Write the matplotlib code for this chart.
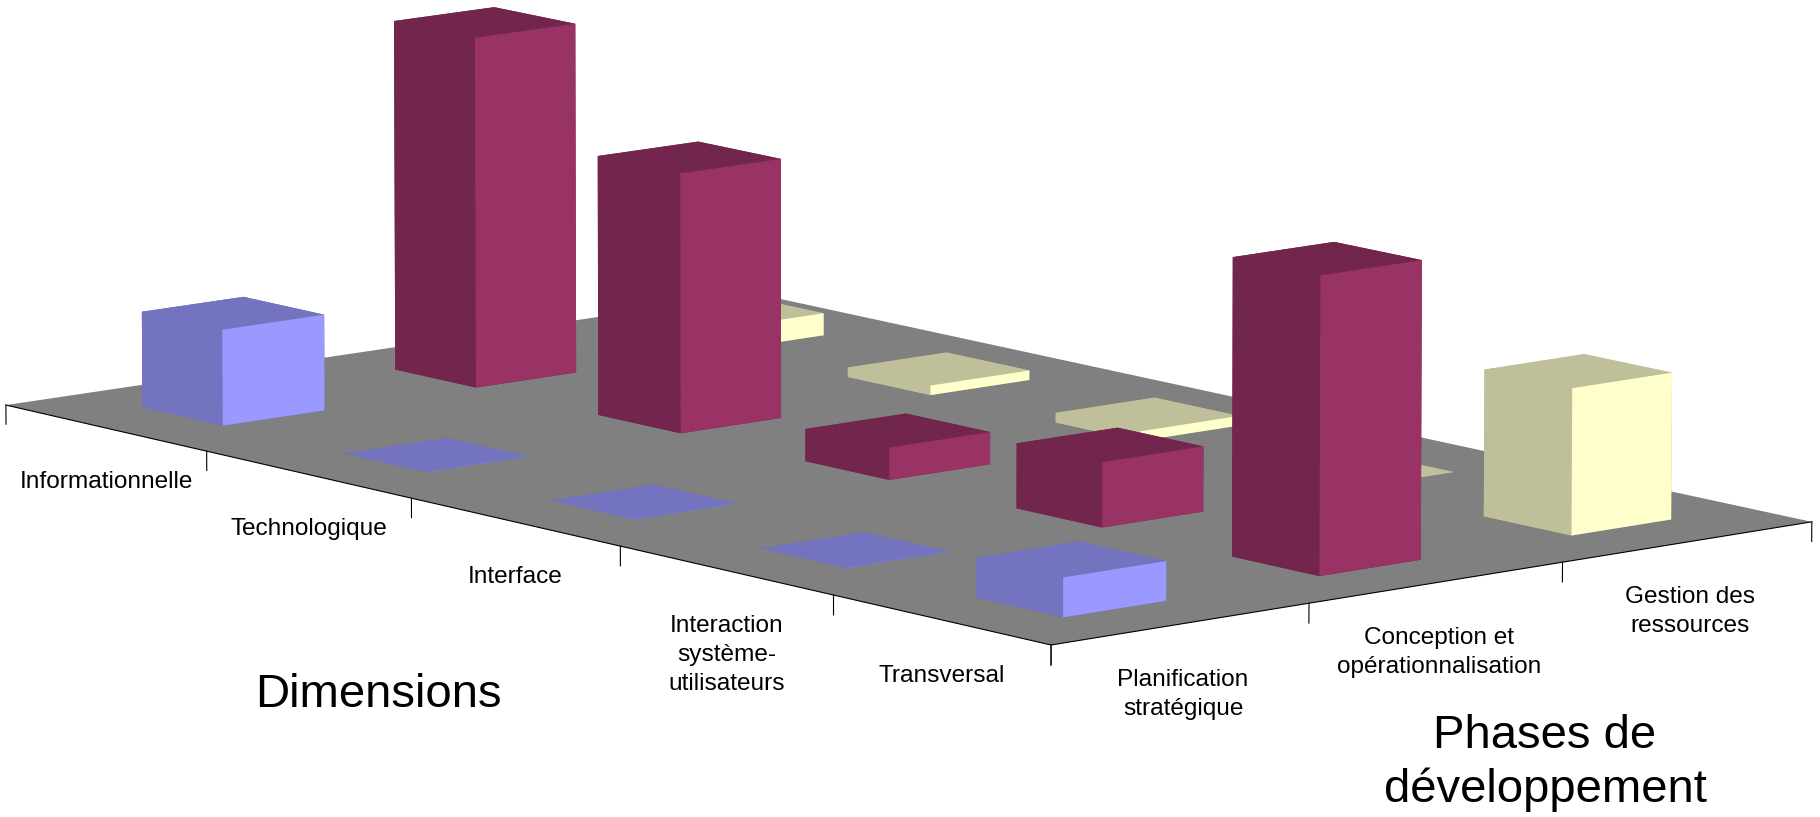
import matplotlib
matplotlib.use("Agg")
import matplotlib.pyplot as plt
from mpl_toolkits.mplot3d.art3d import Poly3DCollection

dimensions = ["Informationnelle", "Technologique", "Interface",
              "Interaction\nsystème-\nutilisateurs", "Transversal"]
phases = ["Planification\nstratégique", "Conception et\nopérationnalisation",
          "Gestion des\nressources"]

# one value per dimension
planification = [0.30, 0.0005, 0.0005, 0.0005, 0.12]
conception = [1.10, 0.81, 0.10, 0.20, 0.91]
gestion = [0.07, 0.03, 0.03, 0.0005, 0.45]
series = [planification, conception, gestion]

# top, left and right face of the bars
face_colors = [("#7373BF", "#7373BF", "#9999FF"),
               ("#73264D", "#73264D", "#993366"),
               ("#BFBF99", "#BFBF99", "#FFFFCC")]

plt.rcParams['font.family'] = ['Liberation Sans', 'DejaVu Sans']

fig = plt.figure(figsize=(18.2, 8.17), dpi=100)
# axes are square in 3d so they hang over the figure to get the full width
ax = fig.add_axes([-0.1275, -0.732, 1.2088, 2.6928], projection='3d', computed_zorder=False)
ax.set_proj_type('persp', focal_length=2.1)
ax.view_init(elev=10.3, azim=-39.85)
ax.set_axis_off()

# floor
floor = Poly3DCollection([[(0, 0, 0), (5, 0, 0), (5, 3, 0), (0, 3, 0)]],
                         facecolor="#808080", edgecolor="none", zorder=0)
ax.add_collection3d(floor)

# bars, from the back to the front so they cover each other properly
width = 0.4
for j in range(2, -1, -1):
    top, left, right = face_colors[j]
    for i in range(5):
        ax.bar3d(i + 0.3, j + 0.3, 0, width, width, series[j][i],
                 color=[top, top, left, left, left, right], shade=False,
                 edgecolor="none", zorder=10 + (2 - j) * 5 + i)

# front edges and the ticks under them
ax.plot([0, 5, 5], [0, 0, 3], [0, 0, 0], color="black", lw=0.8, zorder=1)
for i in range(6):
    ax.plot([i, i], [0, 0], [0, -0.06], color="black", lw=0.8, zorder=1)
for j in range(4):
    ax.plot([5, 5], [j, j], [0, -0.06], color="black", lw=0.8, zorder=1)

for i, name in enumerate(dimensions):
    ax.text(i + 0.5, 0, -0.135, name, ha="center", va="top", fontsize=17.6,
            linespacing=1.42, zorder=50)
for j, name in enumerate(phases):
    ax.text(5, j + 0.51, -0.135, name, ha="center", va="top", fontsize=17.6,
            linespacing=1.42, zorder=50)

fig.text(378 / 1820, 1 - 695 / 817, "Dimensions", ha="center", va="center",
         fontsize=34)
fig.text(1545 / 1820, 1 - 763 / 817, "Phases de\ndéveloppement", ha="center",
         va="center", fontsize=34, linespacing=1.3)

ax.set_xlim(0, 5, view_margin=0)
ax.set_ylim(0, 3, view_margin=0)
ax.set_zlim(0, 1.1, view_margin=0)
ax.set_box_aspect((5, 3, 1.1), zoom=0.8596)

fig.savefig("out.png", dpi=100)
